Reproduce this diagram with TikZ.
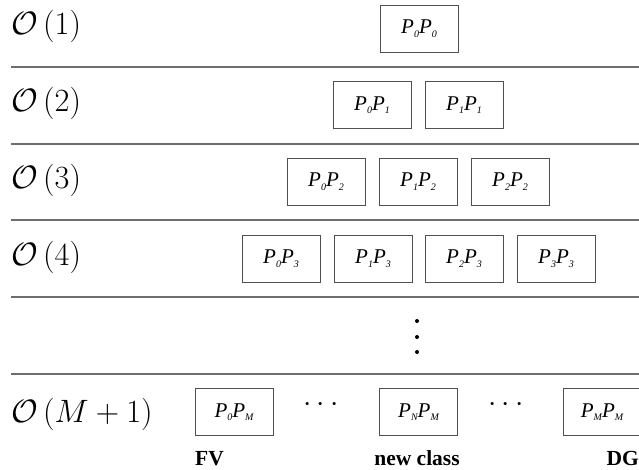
\documentclass[tikz,border=0pt]{standalone}
\usepackage{graphicx}
\usepackage[no-math]{fontspec}
\newfontfamily\tnr{Liberation Serif}
\newcommand{\PPsub}[1]{\lower3.5pt\hbox{\fontsize{10}{10}\selectfont #1}}
\newcommand{\PairPP}[2]{{\tnr\itshape\fontsize{21}{21}\selectfont P\PPsub{#1}P\PPsub{#2}}}
\newcommand{\BigOrder}[1]{\scalebox{1.3}{\fontsize{24.88}{25}\selectfont$\mathcal{O}\left(#1\right)$}}
\newcommand{\BigDots}{\scalebox{1.2}{\fontsize{24.88}{25}\selectfont$\cdots$}}
\definecolor{rulegray}{HTML}{6E6E6E}
\definecolor{boxgray}{HTML}{505050}
\tikzset{
  pbox/.style={draw=boxgray, line width=0.8pt, minimum width=78pt, minimum height=47pt, inner sep=0pt},
  rowlabel/.style={anchor=west, inner sep=0pt},
  sepline/.style={draw=rulegray, line width=1.3pt},
  bottomlabel/.style={inner sep=0pt, font=\tnr\bfseries\fontsize{21.5}{21.5}\selectfont},
  hdots/.style={inner sep=0pt},
  vdot/.style={circle, fill=black, inner sep=0pt, minimum size=4pt}
}
\begin{document}
\begin{tikzpicture}[x=1pt,y=-1pt]
\clip (0,0) rectangle (639,470);
\useasboundingbox (0,0) rectangle (639,470);
% row labels
\node[rowlabel] (l1) at (11,26) {\BigOrder{1}};
\node[rowlabel] (l2) at (11,103) {\BigOrder{2}};
\node[rowlabel] (l3) at (11,180) {\BigOrder{3}};
\node[rowlabel] (l4) at (11,257) {\BigOrder{4}};
\node[rowlabel] (lm) at (11,414) {\BigOrder{M+1}};
% separators
\coordinate (s1a) at (11,67);  \coordinate (s1b) at (639,67);
\coordinate (s2a) at (11,144); \coordinate (s2b) at (639,144);
\coordinate (s3a) at (11,220); \coordinate (s3b) at (639,220);
\coordinate (s4a) at (11,297); \coordinate (s4b) at (639,297);
\coordinate (s5a) at (11,374); \coordinate (s5b) at (639,374);
\draw[sepline] (s1a) -- (s1b);
\draw[sepline] (s2a) -- (s2b);
\draw[sepline] (s3a) -- (s3b);
\draw[sepline] (s4a) -- (s4b);
\draw[sepline] (s5a) -- (s5b);
% row 1
\node[pbox] (b00) at (419,28.5) {\PairPP{0}{0}};
% row 2
\node[pbox] (b01) at (372,105) {\PairPP{0}{1}};
\node[pbox] (b11) at (464,105) {\PairPP{1}{1}};
% row 3
\node[pbox] (b02) at (326,181.5) {\PairPP{0}{2}};
\node[pbox] (b12) at (418,181.5) {\PairPP{1}{2}};
\node[pbox] (b22) at (510,181.5) {\PairPP{2}{2}};
% row 4
\node[pbox] (b03) at (281,258.5) {\PairPP{0}{3}};
\node[pbox] (b13) at (373,258.5) {\PairPP{1}{3}};
\node[pbox] (b23) at (464,258.5) {\PairPP{2}{3}};
\node[pbox] (b33) at (556,258.5) {\PairPP{3}{3}};
% vertical dots
\node[vdot] (vd1) at (417,321) {};
\node[vdot] (vd2) at (417,337) {};
\node[vdot] (vd3) at (417,352) {};
% last row
\node[pbox] (b0m) at (234,412) {\PairPP{0}{M}};
\node[hdots] (hd1) at (321,405) {\BigDots};
\node[pbox] (bnm) at (418.5,412) {\PairPP{N}{M}};
\node[hdots] (hd2) at (506,405) {\BigDots};
\node[pbox] (bmm) at (602,412) {\PairPP{M}{M}};
% bottom labels
\node[bottomlabel, anchor=base west] (fv) at (195,465) {FV};
\node[bottomlabel, anchor=base] (nc) at (417,465) {new class};
\node[bottomlabel, anchor=base east] (dg) at (639,465) {DG};
\end{tikzpicture}
\end{document}
